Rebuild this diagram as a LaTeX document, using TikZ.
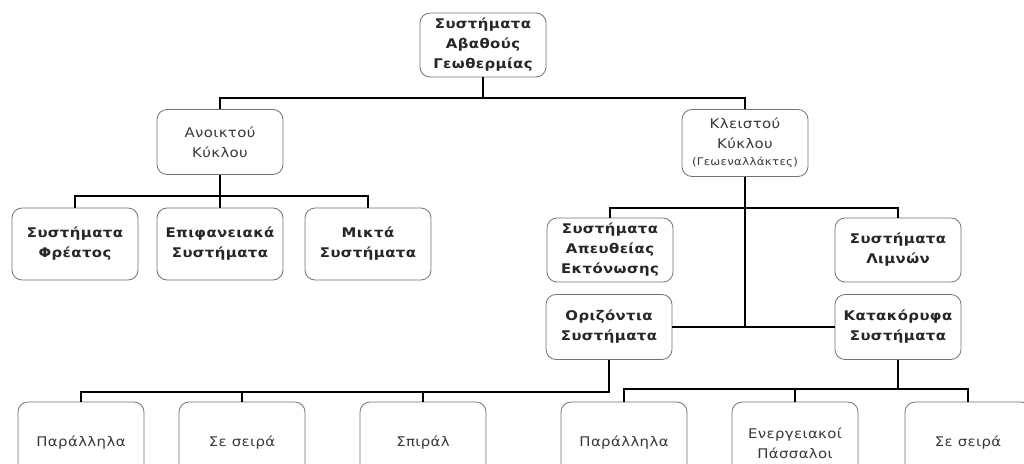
\documentclass[tikz,border=0pt]{standalone}
\usepackage{fontspec}
\newfontfamily\boxfont[FakeStretch=1.12,LetterSpace=3]{DejaVu Sans}
\begin{document}
\begin{tikzpicture}[x=1pt,y=-1pt,
  box/.style={draw=black!55, line width=0.8pt, rounded corners=10pt,
    fill=white, align=center, inner sep=1pt,
    minimum width=126pt, minimum height=65pt},
  strong/.style={box, font=\boxfont\bfseries\fontsize{13.3}{20}\selectfont, text=black!85},
  light/.style={box, font=\boxfont\fontsize{13.3}{20}\selectfont, text=black!78},
  leaf/.style={light, minimum height=82pt},
  link/.style={line width=2.8pt, black}]
\path[use as bounding box, clip] (0,0) rectangle (1024,463);
\fill[white] (0,0) rectangle (1024,463);

% root and first level
\node[strong, minimum height=64pt] (root) at (483,45) {Συστήματα\\Αβαθούς\\Γεωθερμίας};
\node[light] (open) at (220,142) {Ανοικτού\\Κύκλου};
\node[light, minimum height=67pt] (closed) at (745,143)
  {Κλειστού\\Κύκλου\\[-3pt]{\fontsize{10.5}{12}\selectfont(Γεωεναλλάκτες)}};

% open loop systems
\node[strong, minimum height=72pt] (well)  at (75,244)  {Συστήματα\\Φρέατος};
\node[strong, minimum height=72pt] (surf)  at (220,244) {Επιφανειακά\\Συστήματα};
\node[strong, minimum height=72pt] (mixed) at (368,244) {Μικτά\\Συστήματα};

% closed loop systems
\node[strong, minimum height=64pt] (direct) at (610,250) {Συστήματα\\Απευθείας\\Εκτόνωσης};
\node[strong, minimum height=64pt] (lakes)  at (898,250) {Συστήματα\\Λιμνών};
\node[strong] (horiz) at (609,327) {Οριζόντια\\Συστήματα};
\node[strong] (vert)  at (898,327) {Κατακόρυφα\\Συστήματα};

% bottom level
\node[leaf] (b1) at (81,443)  {Παράλληλα};
\node[leaf] (b2) at (242,443) {Σε σειρά};
\node[leaf] (b3) at (423,443) {Σπιράλ};
\node[leaf] (b4) at (624,443) {Παράλληλα};
\node[leaf] (b5) at (795,443) {Ενεργειακοί\\Πάσσαλοι};
\node[leaf] (b6) at (968,443) {Σε σειρά};

% junction points of the tree
\coordinate (j1) at (483,98);
\coordinate (j2) at (220,196);
\coordinate (j3) at (745,208);
\coordinate (j4) at (745,327);
\coordinate (j5) at (609,392);
\coordinate (j6) at (898,389);

% connectors
\draw[link] (root.south) -- (j1);
\draw[link] (open.north) |- (j1) -| (closed.north);
\draw[link] (open.south) -- (surf.north);
\draw[link] (well.north) |- (j2) -| (mixed.north);
\draw[link] (closed.south) -- (j4);
\draw[link] (direct.north) |- (j3) -| (lakes.north);
\draw[line width=1.8pt] (horiz.east) -- (vert.west);
\draw[link] (horiz.south) -- (j5) -| (b1.north);
\draw[link] (b2.north) -- (b2.north |- j5);
\draw[link] (b3.north) -- (b3.north |- j5);
\draw[link] (vert.south) -- (j6);
\draw[link] (b4.north) |- (j6) -| (b6.north);
\draw[link] (b5.north) -- (b5.north |- j6);
\end{tikzpicture}
\end{document}
